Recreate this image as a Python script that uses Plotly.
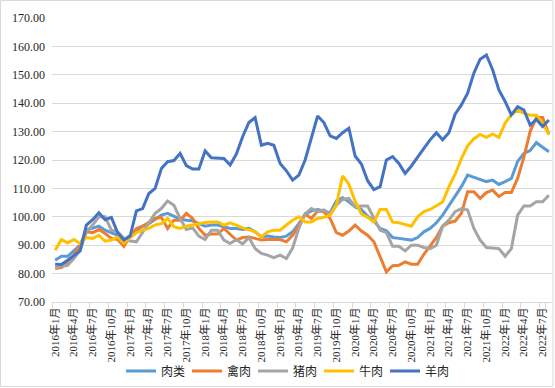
import plotly.graph_objects as go

months = [f"{y}年{m}月" for y in range(2016, 2023) for m in range(1, 13)][:80]

meat = [84.7, 86.1, 86.1, 88.0, 90.0, 95.3, 95.9, 96.7, 95.3, 94.4, 93.5, 91.8,
        93.5, 95.3, 96.7, 97.6, 99.0, 100.6, 101.2, 100.2, 99.2, 98.8, 98.6, 97.6,
        96.7, 97.1, 97.1, 96.5, 95.9, 95.9, 95.5, 95.9, 94.7, 92.9, 93.2, 92.9,
        92.7, 93.2, 94.7, 97.6, 100.8, 102.1, 102.6, 102.1, 101.4, 105.6, 106.7, 105.3,
        103.5, 102.6, 100.2, 98.6, 95.9, 95.1, 92.7, 92.4, 92.0, 91.8, 92.7, 94.7,
        95.9, 97.9, 100.6, 103.8, 107.1, 110.6, 114.7, 113.9, 113.2, 112.4, 112.9, 111.4,
        112.4, 113.5, 119.5, 122.3, 123.3, 126.1, 124.5, 122.9]

poultry = [81.8, 82.1, 84.1, 86.5, 90.0, 94.7, 94.4, 95.5, 94.1, 92.4, 92.0, 89.6,
           93.2, 95.9, 96.7, 98.2, 99.4, 99.8, 95.9, 98.8, 98.8, 101.2, 99.4, 95.9,
           93.5, 93.9, 93.9, 95.9, 93.9, 91.8, 92.7, 92.9, 92.4, 91.8, 92.0, 92.0,
           92.0, 91.2, 93.5, 97.0, 101.0, 99.4, 102.0, 101.8, 99.4, 94.4, 93.5, 95.0,
           97.1, 95.0, 93.5, 91.2, 85.9, 80.6, 82.8, 82.9, 84.1, 83.3, 83.3, 86.8,
           89.8, 92.7, 96.7, 97.9, 98.5, 101.2, 108.8, 108.8, 106.5, 108.5, 109.4, 107.1,
           108.6, 108.6, 113.5, 121.0, 130.0, 135.0, 135.0, 129.0]

pork = [82.1, 82.6, 82.9, 85.3, 88.2, 94.7, 97.1, 100.0, 100.0, 95.3, 94.7, 92.4,
        91.5, 91.2, 94.7, 97.9, 101.2, 102.9, 105.6, 104.1, 99.4, 95.5, 96.1, 93.2,
        92.0, 95.3, 95.3, 91.8, 90.6, 92.0, 90.4, 92.7, 88.8, 87.1, 86.5, 85.6,
        86.5, 85.3, 89.0, 96.0, 101.0, 102.9, 101.8, 102.4, 100.9, 104.1, 106.1, 106.5,
        103.5, 103.8, 103.8, 99.4, 95.3, 94.4, 89.6, 89.6, 88.0, 90.0, 90.0, 89.2,
        88.8, 90.0, 96.7, 98.8, 101.8, 102.9, 102.4, 95.9, 91.8, 89.2, 89.1, 88.8,
        86.1, 88.8, 100.6, 103.8, 103.8, 105.3, 105.3, 107.6]

beef = [88.2, 92.0, 90.8, 92.0, 90.6, 92.7, 92.4, 93.5, 91.4, 91.8, 92.9, 90.8,
        92.7, 94.4, 95.3, 95.9, 97.1, 97.6, 99.4, 96.5, 95.9, 96.7, 97.1, 97.6,
        98.0, 98.2, 98.2, 97.1, 97.9, 97.1, 96.1, 95.5, 94.7, 92.9, 94.7, 95.3,
        95.3, 97.1, 98.8, 100.0, 98.2, 98.2, 99.4, 99.8, 100.6, 104.1, 114.4, 111.5,
        105.5, 101.0, 99.8, 98.2, 102.6, 102.6, 98.1, 97.9, 97.4, 96.7, 100.0, 101.8,
        102.6, 104.0, 105.2, 110.5, 115.0, 120.5, 125.0, 127.5, 129.0, 128.0, 129.2, 128.0,
        133.0, 136.0, 137.5, 136.5, 135.8, 135.8, 133.0, 129.0]

lamb = [83.3, 83.2, 84.7, 86.5, 88.0, 97.1, 99.0, 101.4, 99.0, 99.8, 94.4, 91.8,
        93.2, 102.1, 102.9, 108.2, 110.0, 117.0, 119.4, 119.8, 122.3, 118.0, 116.8, 116.8,
        123.2, 120.8, 120.7, 120.5, 118.2, 122.1, 128.2, 133.2, 134.9, 125.2, 125.9, 125.2,
        118.8, 116.2, 112.9, 114.7, 120.0, 128.2, 135.5, 133.2, 128.5, 127.6, 129.6, 131.2,
        121.4, 118.6, 112.7, 109.6, 110.6, 120.0, 121.2, 118.8, 115.3, 117.9, 121.2, 124.1,
        127.1, 129.6, 127.1, 129.6, 136.1, 139.4, 143.5, 150.6, 155.5, 157.0, 151.8, 144.7,
        140.6, 135.9, 138.8, 137.6, 132.3, 134.3, 131.8, 134.1]

series_names = ["肉类", "禽肉", "猪肉", "牛肉", "羊肉"]
series_values = [meat, poultry, pork, beef, lamb]
series_colors = ["#5B9BD5", "#ED7D31", "#A5A5A5", "#FFC000", "#4472C4"]

fig = go.Figure()
for name, vals, col in zip(series_names, series_values, series_colors):
    fig.add_trace(go.Scatter(x=months, y=vals, name=name, mode="lines",
                             line=dict(color=col, width=3)))

L, R, T, B = 52, 3, 18, 86
W, H = 555, 388
pw, ph = W - L - R, H - T - B

def px(xp):
    return (xp - L) / pw

def py(yp):
    return (H - B - yp) / ph

fig.update_layout(
    width=W, height=H,
    margin=dict(l=L, r=R, t=T, b=B, pad=0, autoexpand=False),
    paper_bgcolor="white", plot_bgcolor="white",
    font=dict(family="Liberation Serif, Noto Sans CJK SC", size=12, color="#262626"),
    showlegend=True,
    legend=dict(orientation="h", x=px(121), y=py(371), xanchor="left", yanchor="middle",
                entrywidth=21, entrywidthmode="pixels",
                font=dict(family="Noto Sans CJK SC", size=12, color="#262626"),
                bgcolor="rgba(0,0,0,0)"),
    xaxis=dict(type="category", range=[-0.5, 79.5], tickvals=months[::3],
               tickson="boundaries", ticks="outside", ticklen=5, tickcolor="#D9D9D9",
               showline=True, linecolor="#D9D9D9", linewidth=1, showgrid=False,
               tickangle=-90, tickfont=dict(size=11), fixedrange=True),
    yaxis=dict(range=[70, 170], dtick=10, tick0=70, tickformat=".2f",
               showgrid=True, gridcolor="#D9D9D9", gridwidth=1, zeroline=False,
               showline=False, ticks="", ticklabelstandoff=6,
               tickfont=dict(size=12), fixedrange=True),
    shapes=[dict(type="rect", xref="paper", yref="paper",
                 x0=px(0.5), x1=px(553), y0=py(386.5), y1=py(0.5),
                 line=dict(color="#D9D9D9", width=1), fillcolor="rgba(0,0,0,0)",
                 layer="below")],
)

fig.write_html("out.html", config={"displayModeBar": False},
               post_script="document.body.style.margin='0';document.body.style.overflow='hidden';")
